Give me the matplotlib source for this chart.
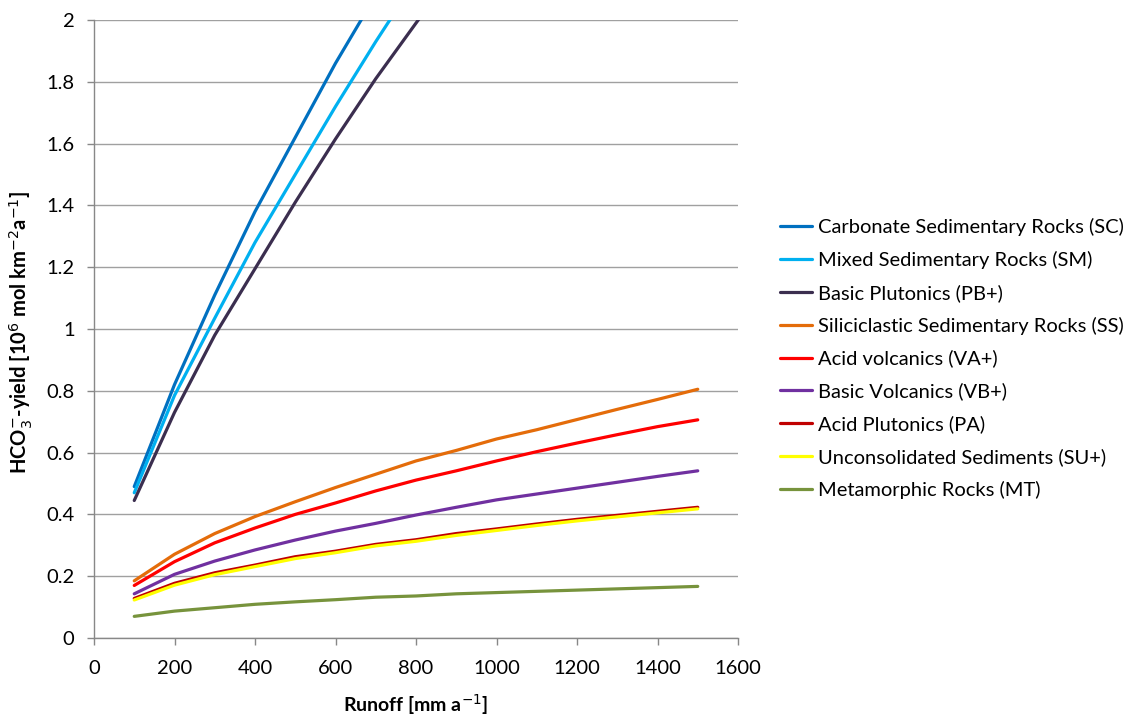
import matplotlib.pyplot as plt

plt.rcParams['font.family'] = ['Lato', 'DejaVu Sans']

runoff = [100, 200, 300, 400, 500, 600, 700, 800, 900, 1000, 1100, 1200, 1300, 1400, 1500]

# HCO3- yield per lithology class [10^6 mol km^-2 a^-1]
sc = [0.49, 0.82, 1.11, 1.38, 1.62, 1.86, 2.08, 2.30, 2.51, 2.72, 2.92, 3.12, 3.32, 3.51, 3.70]
sm = [0.47, 0.785, 1.035, 1.28, 1.50, 1.72, 1.93, 2.13, 2.33, 2.52, 2.71, 2.90, 3.08, 3.26, 3.44]
pb = [0.445, 0.73, 0.98, 1.195, 1.41, 1.615, 1.81, 1.99, 2.17, 2.34, 2.51, 2.68, 2.84, 3.00, 3.16]
ss = [0.185, 0.271, 0.338, 0.393, 0.441, 0.487, 0.530, 0.573, 0.607, 0.644, 0.674, 0.707, 0.740, 0.772, 0.805]
va = [0.170, 0.247, 0.308, 0.356, 0.400, 0.437, 0.476, 0.511, 0.541, 0.573, 0.603, 0.631, 0.658, 0.684, 0.706]
vb = [0.143, 0.206, 0.249, 0.285, 0.317, 0.346, 0.371, 0.398, 0.423, 0.447, 0.466, 0.485, 0.504, 0.523, 0.541]
pa = [0.128, 0.177, 0.211, 0.236, 0.263, 0.281, 0.303, 0.318, 0.338, 0.353, 0.369, 0.384, 0.397, 0.410, 0.423]
su = [0.123, 0.171, 0.205, 0.231, 0.257, 0.276, 0.298, 0.313, 0.332, 0.348, 0.364, 0.379, 0.392, 0.405, 0.418]
mt = [0.070, 0.087, 0.098, 0.109, 0.117, 0.124, 0.132, 0.136, 0.143, 0.147, 0.151, 0.155, 0.159, 0.163, 0.167]

labels = ["Carbonate Sedimentary Rocks (SC)", "Mixed Sedimentary Rocks (SM)",
          "Basic Plutonics (PB+)", "Siliciclastic Sedimentary Rocks (SS)",
          "Acid volcanics (VA+)", "Basic Volcanics (VB+)", "Acid Plutonics (PA)",
          "Unconsolidated Sediments (SU+)", "Metamorphic Rocks (MT)"]
colors = ["#0070C0", "#00B0F0", "#3B2E4F", "#E46C0A", "#FF0000",
          "#7030A0", "#C00000", "#FFFF00", "#77933C"]
series = [sc, sm, pb, ss, va, vb, pa, su, mt]

FS = 14.5

fig = plt.figure(figsize=(11.33, 7.22), dpi=100)
ax = fig.add_axes([94 / 1133, 1 - 638 / 722, 644 / 1133, 618 / 722])

for ys, lab, c in zip(series, labels, colors):
    ax.plot(runoff, ys, color=c, lw=2.3, label=lab, solid_capstyle='round')

ax.set_xlim(0, 1600)
ax.set_ylim(0, 2)
ax.set_xticks(range(0, 1601, 200))
ax.set_yticks([0, 0.2, 0.4, 0.6, 0.8, 1.0, 1.2, 1.4, 1.6, 1.8, 2.0])
ax.set_yticklabels(["0", "0.2", "0.4", "0.6", "0.8", "1", "1.2", "1.4", "1.6", "1.8", "2"])
ax.yaxis.grid(True, color="#a0a0a0", lw=1.0)
ax.set_axisbelow(True)
for s in ("top", "right"):
    ax.spines[s].set_visible(False)
for s in ("left", "bottom"):
    ax.spines[s].set_color("#888888")
    ax.spines[s].set_linewidth(1.0)
ax.tick_params(axis='both', colors="#888888", labelcolor="black", labelsize=FS,
               length=5, width=1.0)
ax.tick_params(axis='x', pad=11)
ax.tick_params(axis='y', pad=9)

# axis titles placed by hand, Excel style
ax.set_xlabel("Runoff [mm a$^{-1}$]", fontsize=14, fontweight='bold')
ax.xaxis.set_label_coords(0.5, -(705 - 638) / 618)
ax.xaxis.label.set_va('center')
ax.set_ylabel("HCO$_3^{-}$-yield [10$^6$ mol km$^{-2}$a$^{-1}$]", fontsize=14.5,
              fontweight='bold')
ax.yaxis.set_label_coords(-(94 - 21) / 644, (638 - 332) / 618)
ax.yaxis.label.set_va('center')

fig.legend(loc='center left', bbox_to_anchor=(780 / 1133, 1 - 358.5 / 722),
           frameon=False, fontsize=FS, handlelength=1.6, handletextpad=0.3,
           labelspacing=0.74, borderpad=0, borderaxespad=0)

fig.savefig("out.png", dpi=100)
